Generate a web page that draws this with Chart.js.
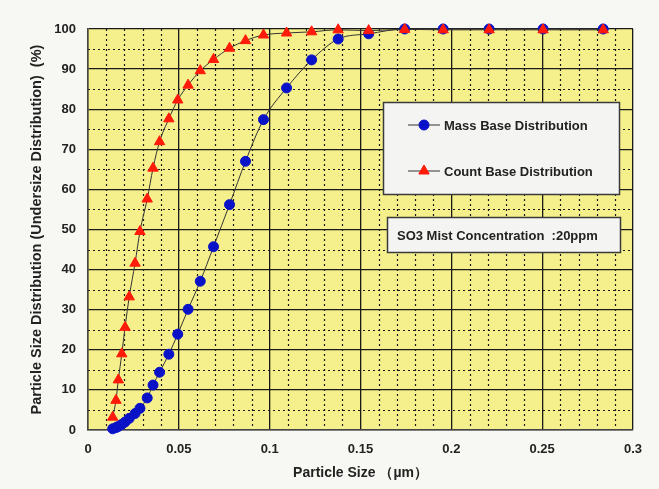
<!DOCTYPE html>
<html>
<head>
<meta charset="utf-8">
<script src="https://cdn.jsdelivr.net/npm/chart.js@4/dist/chart.umd.min.js"></script>
<style>
    html, body { margin: 0; padding: 0; background: #f7f7f3; }
    #contenedor { width: 659px; height: 489px; }
</style>
</head>
<body>
<div id="contenedor"><canvas id="miGrafico" width="659" height="489"></canvas></div>
<script>
// Tamaño de partícula (µm)
const tamanos = [0.0136, 0.0154, 0.0167, 0.0186, 0.0204, 0.0227, 0.0259, 0.0286, 0.0326, 0.0358,
    0.0394, 0.0445, 0.0494, 0.0551, 0.0618, 0.0691, 0.0779, 0.0867, 0.0966, 0.1093,
    0.1231, 0.1377, 0.1545, 0.1743, 0.1955, 0.2208, 0.2505, 0.2836];

// Distribución en base de masa (%)
const baseMasa = [0.3, 0.6, 0.9, 1.4, 2.0, 2.9, 4.1, 5.4, 8.0, 11.2,
    14.4, 18.9, 23.9, 30.1, 37.1, 45.7, 56.2, 67.0, 77.4, 85.3,
    92.3, 97.5, 98.8, 100, 100, 100, 100, 100];

// Distribución en base de número (%)
const baseConteo = [3.2, 7.4, 12.5, 19.0, 25.6, 33.2, 41.6, 49.5, 57.6, 65.3,
    71.9, 77.6, 82.3, 86.0, 89.6, 92.4, 95.2, 97.1, 98.5, 99.0,
    99.3, 99.8, 99.6, 99.9, 99.8, 99.8, 99.8, 99.8];

const etiquetasX = ['0', '0.05', '0.1', '0.15', '0.2', '0.25', '0.3'];
const etiquetasY = ['0', '10', '20', '30', '40', '50', '60', '70', '80', '90', '100'];

const nombres = ['Mass Base Distribution', 'Count Base Distribution'];
const notaConcentracion = 'SO3 Mist Concentration  :20ppm';

const fuente = "'Liberation Sans', Arial, sans-serif";

// fondo amarillo y cuadrícula punteada secundaria
const fondoYCuadricula = {
    id: 'fondoYCuadricula',
    beforeDraw(chart) {
        const { ctx, chartArea: a, scales } = chart;
        ctx.save();
        ctx.fillStyle = '#f6f08c';
        ctx.fillRect(a.left, a.top, a.right - a.left, a.bottom - a.top);
        ctx.strokeStyle = '#1a1a1a';
        ctx.lineWidth = 1.2;
        ctx.setLineDash([2, 3]);
        for (let i = 1; i < 30; i++) {
            if (i % 5 === 0) continue;
            const px = Math.round(scales.x.getPixelForValue(i / 100)) + 0.5;
            ctx.beginPath();
            ctx.moveTo(px, a.top);
            ctx.lineTo(px, a.bottom);
            ctx.stroke();
        }
        for (let v = 5; v < 100; v += 10) {
            const py = Math.round(scales.y.getPixelForValue(v)) + 0.5;
            ctx.beginPath();
            ctx.moveTo(a.left, py);
            ctx.lineTo(a.right, py);
            ctx.stroke();
        }
        ctx.restore();
    }
};

// leyenda y nota dentro del área del gráfico
const leyendaInterna = {
    id: 'leyendaInterna',
    afterDraw(chart) {
        const { ctx } = chart;
        ctx.save();
        const caja = (x, y, w, h) => {
            ctx.fillStyle = '#f4f4f2';
            ctx.fillRect(x, y, w, h);
            ctx.strokeStyle = '#3a3a3a';
            ctx.lineWidth = 1.5;
            ctx.strokeRect(x, y, w, h);
        };
        caja(383.5, 102.5, 236, 92);
        caja(387.5, 217.5, 233, 35);

        ctx.font = 'bold 13px ' + fuente;
        ctx.textBaseline = 'middle';
        const filas = [125, 171];
        chart.data.datasets.forEach((ds, i) => {
            const y = filas[i];
            ctx.strokeStyle = '#333';
            ctx.lineWidth = 1;
            ctx.beginPath();
            ctx.moveTo(408, y);
            ctx.lineTo(440, y);
            ctx.stroke();
            ctx.fillStyle = ds.pointBackgroundColor;
            ctx.strokeStyle = ds.pointBorderColor;
            Chart.helpers.drawPoint(ctx, {
                pointStyle: ds.pointStyle,
                radius: ds.pointRadius,
                borderWidth: 1
            }, 424, y);
            ctx.fillStyle = '#222';
            ctx.fillText(nombres[i], 444, y + 1);
        });
        ctx.fillText(notaConcentracion, 397, 236);
        ctx.restore();
    }
};

const contexto = document.getElementById('miGrafico').getContext('2d');
new Chart(contexto, {
    type: 'scatter',
    data: {
        datasets: [{
            label: nombres[0],
            data: tamanos.map((t, i) => ({ x: t, y: baseMasa[i] })),
            showLine: true,
            borderColor: '#333',
            borderWidth: 1,
            cubicInterpolationMode: 'monotone',
            clip: 10,
            pointStyle: 'circle',
            pointRadius: 5,
            pointBackgroundColor: '#0a12c8',
            pointBorderColor: '#0a12c8',
            order: 2
        }, {
            label: nombres[1],
            data: tamanos.map((t, i) => ({ x: t, y: baseConteo[i] })),
            showLine: true,
            borderColor: '#333',
            borderWidth: 1,
            cubicInterpolationMode: 'monotone',
            clip: 10,
            pointStyle: 'triangle',
            pointRadius: 6,
            pointBackgroundColor: '#ff1a0a',
            pointBorderColor: '#ff1a0a',
            order: 1
        }]
    },
    options: {
        responsive: false,
        animation: false,
        layout: { padding: { top: 29, right: 26, left: 0, bottom: 0 } },
        plugins: {
            legend: { display: false },
            tooltip: { enabled: false }
        },
        scales: {
            x: {
                type: 'linear',
                min: 0,
                max: 0.3,
                afterFit: s => { s.height = 59; },
                afterBuildTicks: s => {
                    s.ticks = etiquetasX.map(v => ({ value: parseFloat(v) }));
                },
                ticks: {
                    padding: 12,
                    color: '#222',
                    font: { family: fuente, size: 13, weight: 'bold' },
                    callback: (v, i) => etiquetasX[i]
                },
                grid: { color: '#1a1a1a', lineWidth: 1.3, drawTicks: false },
                border: { color: '#444', width: 1.5 },
                title: {
                    display: true,
                    text: 'Particle Size （µm）',
                    color: '#222',
                    font: { family: fuente, size: 14, weight: 'bold' },
                    padding: { top: 0, bottom: 7 }
                }
            },
            y: {
                min: 0,
                max: 100,
                afterFit: s => { s.width = 88; },
                afterBuildTicks: s => {
                    s.ticks = etiquetasY.map(v => ({ value: parseFloat(v) }));
                },
                ticks: {
                    padding: 12,
                    color: '#222',
                    font: { family: fuente, size: 13, weight: 'bold' },
                    callback: (v, i) => etiquetasY[i]
                },
                grid: { color: '#1a1a1a', lineWidth: 1.3, drawTicks: false },
                border: { color: '#444', width: 1.5 },
                title: {
                    display: true,
                    text: 'Particle Size Distribution (Undersize Distribution)  (%)',
                    color: '#222',
                    font: { family: fuente, size: 14.5, weight: 'bold' },
                    padding: { top: 28, bottom: 0 }
                }
            }
        }
    },
    plugins: [fondoYCuadricula, leyendaInterna]
});
</script>
</body>
</html>
